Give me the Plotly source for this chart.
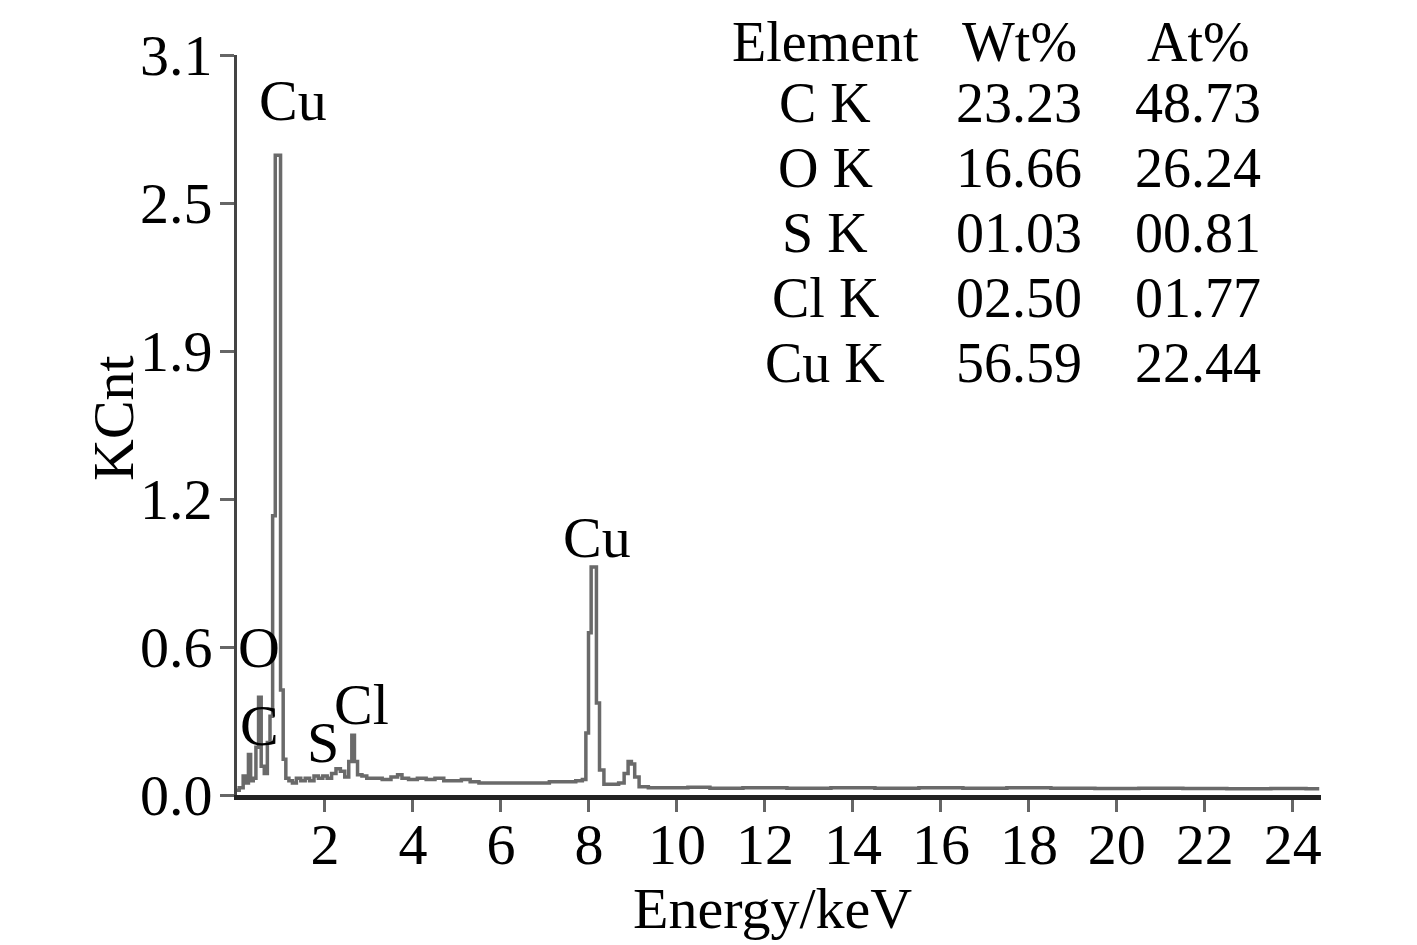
import plotly.graph_objects as go

# ---- spectrum (keV, KCnt) ----
energy = [0.00, 0.10, 0.18, 0.24, 0.28, 0.34, 0.40, 0.46, 0.52, 0.58, 0.66, 0.72, 0.78,
          0.84, 0.90, 0.96, 1.02, 1.08, 1.14, 1.22, 1.30, 1.40, 1.50, 1.60, 1.70, 1.80,
          1.90, 2.00, 2.10, 2.20, 2.30, 2.40, 2.50, 2.58, 2.64, 2.70, 2.78, 2.90, 3.00,
          3.20, 3.40, 3.60, 3.70, 3.80, 4.00, 4.20, 4.40, 4.60, 4.80, 5.00, 5.20, 5.40,
          5.60, 5.80, 6.00, 6.20, 6.40, 6.60, 6.80, 7.00, 7.20, 7.40, 7.60, 7.80, 7.90,
          7.96, 8.02, 8.08, 8.14, 8.20, 8.28, 8.40, 8.60, 8.75, 8.85, 8.93, 9.00, 9.08,
          9.20, 9.50, 10.0, 10.5, 11.0, 12.0, 13.0, 14.0, 15.0, 16.0, 17.0, 18.0, 19.0,
          20.0, 21.0, 22.0, 23.0, 24.0, 24.6]
kcnt = [0.02, 0.03, 0.08, 0.05, 0.17, 0.06, 0.07, 0.20, 0.41, 0.12, 0.09, 0.22, 0.33,
        1.17, 2.68, 2.68, 0.44, 0.15, 0.07, 0.06, 0.05, 0.07, 0.06, 0.07, 0.06, 0.08,
        0.07, 0.08, 0.07, 0.09, 0.11, 0.10, 0.075, 0.14, 0.25, 0.14, 0.085, 0.08, 0.07,
        0.07, 0.065, 0.075, 0.085, 0.07, 0.065, 0.07, 0.065, 0.07, 0.06, 0.06, 0.065, 0.055,
        0.05, 0.05, 0.05, 0.05, 0.05, 0.05, 0.05, 0.05, 0.055, 0.055, 0.055, 0.06, 0.065,
        0.26, 0.68, 0.955, 0.955, 0.385, 0.105, 0.045, 0.045, 0.05, 0.09, 0.14, 0.13, 0.075,
        0.035, 0.03, 0.03, 0.032, 0.028, 0.03, 0.028, 0.03, 0.028, 0.03, 0.028, 0.03, 0.028,
        0.027, 0.028, 0.027, 0.026, 0.027, 0.026]

# ---- peak labels ----
peak_labels = ["Cu", "Cu", "O", "C", "S", "Cl"]
peak_x = [1.27, 8.18, 0.50, 0.50, 1.95, 2.84]
peak_y = [2.91, 1.08, 0.62, 0.29, 0.22, 0.38]

# ---- ticks ----
x_ticks = [2, 4, 6, 8, 10, 12, 14, 16, 18, 20, 22, 24]
y_tickvals = [0.0, 0.62, 1.24, 1.86, 2.48, 3.1]
y_ticktext = ["0.0", "0.6", "1.2", "1.9", "2.5", "3.1"]

# ---- composition table ----
table_header = ["Element", "Wt%", "At%"]
elements = ["C K", "O K", "S K", "Cl K", "Cu K"]
wt_pct = ["23.23", "16.66", "01.03", "02.50", "56.59"]
at_pct = ["48.73", "26.24", "00.81", "01.77", "22.44"]

x_title = "Energy/keV"
y_title = "KCnt"

FONT = "Liberation Serif, Times New Roman, serif"
FS = 58
TFS = 56  # table font size

# page has an 8px body margin; work in screen pixels and convert
OFF = 8
W, H = 1417 - OFF, 945 - OFF
L, R, T, B = 237, 1321, 55, 795  # plot area in screen pixels


def px(x):
    return (x - L) / (R - L)


def py(y):
    return (B - y) / (B - T)


fig = go.Figure()
fig.add_trace(go.Scatter(x=energy, y=kcnt, mode="lines", line_shape="hvh",
                         line=dict(color="#6a6a6a", width=3.5), showlegend=False,
                         hoverinfo="skip"))

annotations = []
for t, xx, yy in zip(peak_labels, peak_x, peak_y):
    annotations.append(dict(x=xx, y=yy, xref="x", yref="y", text=t, showarrow=False,
                            font=dict(family=FONT, size=FS, color="black"),
                            xanchor="center", yanchor="middle"))

col_x = [825, 1019, 1198]
row_y = [103, 168, 233, 298, 363]
# header row hugs the top edge of the figure
for ci, cell in enumerate(table_header):
    annotations.append(dict(x=px(col_x[ci]), y=py(OFF + 1), xref="paper", yref="paper",
                            text=cell, showarrow=False,
                            font=dict(family=FONT, size=TFS, color="black"),
                            xanchor="center", yanchor="top"))
rows = [list(r) for r in zip(elements, wt_pct, at_pct)]
for ri, row in enumerate(rows):
    for ci, cell in enumerate(row):
        annotations.append(dict(x=px(col_x[ci]), y=py(row_y[ri]), xref="paper", yref="paper",
                                text=cell, showarrow=False,
                                font=dict(family=FONT, size=TFS, color="black"),
                                xanchor="center", yanchor="middle"))

# axis titles
annotations.append(dict(x=px(772), y=py(908), xref="paper", yref="paper", text=x_title,
                        showarrow=False, font=dict(family=FONT, size=FS, color="black"),
                        xanchor="center", yanchor="middle"))
annotations.append(dict(x=px(113), y=py(418), xref="paper", yref="paper", text=y_title,
                        showarrow=False, textangle=-90,
                        font=dict(family=FONT, size=FS, color="black"),
                        xanchor="center", yanchor="middle"))

fig.update_layout(
    width=W, height=H,
    margin=dict(l=L - OFF, r=W - (R - OFF), t=T - OFF, b=H - (B - OFF), autoexpand=False),
    paper_bgcolor="white", plot_bgcolor="white",
    font=dict(family=FONT, size=FS, color="black"),
    annotations=annotations,
    xaxis=dict(range=[0, 24.64], tickvals=x_ticks, ticks="outside", ticklen=12,
               tickwidth=3, tickcolor="#666", showline=True, linecolor="#222",
               linewidth=5, showgrid=False, zeroline=False, automargin=False,
               ticklabelstandoff=-18,
               tickfont=dict(family=FONT, size=FS, color="black")),
    yaxis=dict(range=[0, 3.1], tickvals=y_tickvals, ticktext=y_ticktext, ticks="outside",
               ticklen=14, tickwidth=3, tickcolor="#666", showline=True, linecolor="#444",
               linewidth=3, showgrid=False, zeroline=False, automargin=False,
               ticklabelstandoff=-4,
               tickfont=dict(family=FONT, size=FS, color="black")),
)

fig.write_html("out.html")
